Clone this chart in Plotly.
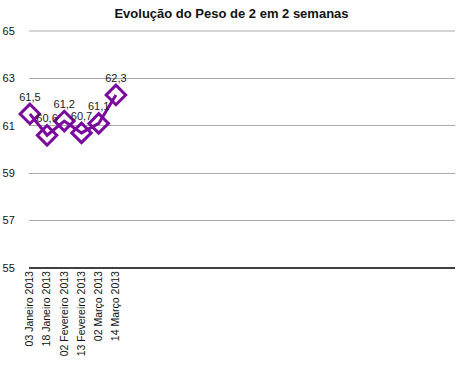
import plotly.graph_objects as go

categories = ["03 Janeiro 2013", "18 Janeiro 2013", "02 Fevereiro 2013",
              "13 Fevereiro 2013", "02 Março 2013", "14 Março 2013"]
peso = [61.5, 60.6, 61.2, 60.7, 61.1, 62.3]
labels = [f"{v:.1f}".replace(".", ",") for v in peso]
y_ticks = [55, 57, 59, 61, 63, 65]

fig = go.Figure()
fig.add_trace(go.Scatter(
    x=categories, y=peso, mode="lines+markers+text",
    text=labels, textposition="top center",
    textfont=dict(family="Liberation Sans, Arial", size=11, color="#222"),
    line=dict(color="#7A0A9E", width=3),
    marker=dict(symbol="diamond-open", size=15, color="#7A0A9E",
                line=dict(width=3, color="#7A0A9E")),
    cliponaxis=False, showlegend=False,
))
fig.update_layout(
    width=463, height=366,
    margin=dict(l=29, r=8, t=31, b=98),
    paper_bgcolor="white", plot_bgcolor="white",
    title=dict(text="<b>Evolução do Peso de 2 em 2 semanas</b>", x=0.5, xanchor="center",
               y=1 - 13/366, yanchor="middle",
               font=dict(family="Liberation Sans, Arial", size=13, color="#111")),
    font=dict(family="Liberation Sans, Arial", size=11, color="#111"),
)
fig.update_xaxes(type="category", range=[-0.05, 24.7], tickangle=-90,
                 showgrid=False, showline=False, zeroline=False, automargin=False,
                 ticks="", tickfont=dict(size=10.5))
fig.update_yaxes(range=[y_ticks[0], y_ticks[-1]], tickvals=y_ticks, showgrid=True,
                 gridcolor="#aaaaaa", gridwidth=1, zeroline=False, automargin=False,
                 showline=False, ticks="outside", ticklen=11,
                 tickcolor="rgba(0,0,0,0)", tickfont=dict(size=11))
# top gridline at the upper edge of the y range (paper-referenced so it is not clipped)
fig.add_shape(type="line", xref="paper", yref="paper", x0=0, x1=1, y0=1, y1=1,
              line=dict(color="#aaaaaa", width=1.2), layer="below")
fig.add_shape(type="line", xref="paper", yref="paper", x0=0, x1=1, y0=0, y1=0,
              line=dict(color="black", width=1.5))
fig.write_html("out.html", config={"displayModeBar": False},
               post_script="document.body.style.margin='0';")
